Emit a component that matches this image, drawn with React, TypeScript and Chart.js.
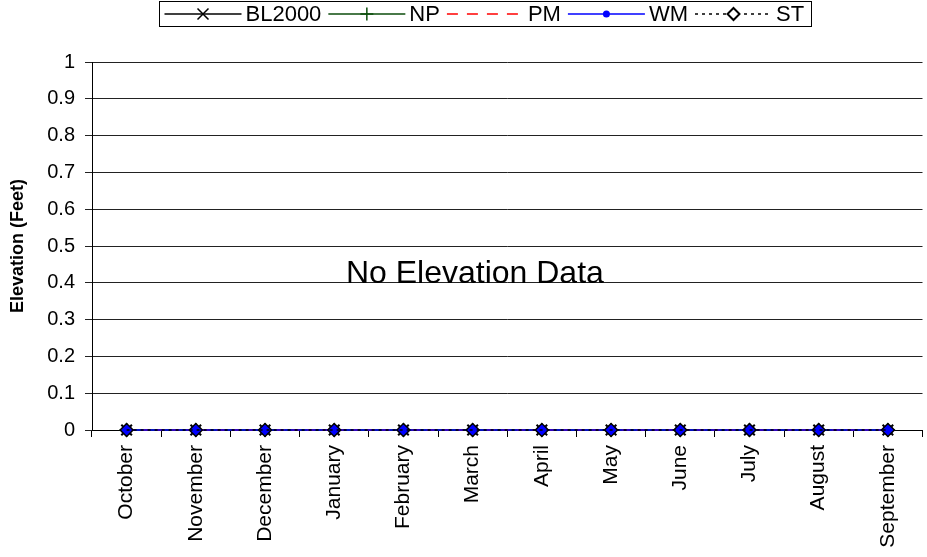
import React, { useEffect, useRef } from "react";
import { Chart, registerables } from "chart.js";

Chart.register(...registerables);

const months = ["October", "November", "December", "January", "February", "March", "April", "May", "June", "July", "August", "September"];
const bl2000 = [0, 0, 0, 0, 0, 0, 0, 0, 0, 0, 0, 0];
const np = [0, 0, 0, 0, 0, 0, 0, 0, 0, 0, 0, 0];
const pm = [0, 0, 0, 0, 0, 0, 0, 0, 0, 0, 0, 0];
const wm = [0, 0, 0, 0, 0, 0, 0, 0, 0, 0, 0, 0];
const st = [0, 0, 0, 0, 0, 0, 0, 0, 0, 0, 0, 0];
const yMin = 0;
const yMax = 1;
const yStep = 0.1;
const noDataText = "No Elevation Data";
const yTitle = "Elevation (Feet)";

const FONT = "Arial, 'Liberation Sans', sans-serif";
const GREEN = "#0b4d0b";

type LegendItem = { label: string; color: string; dash: number[]; marker: string };
const legendItems: LegendItem[] = [
  { label: "BL2000", color: "#000000", dash: [], marker: "x" },
  { label: "NP", color: GREEN, dash: [], marker: "plus" },
  { label: "PM", color: "#ff0000", dash: [11, 9], marker: "none" },
  { label: "WM", color: "#0000ff", dash: [], marker: "dot" },
  { label: "ST", color: "#000000", dash: [3, 4], marker: "diamond" },
];

function drawMarker(ctx: CanvasRenderingContext2D, kind: string, x: number, y: number, color: string) {
  ctx.save();
  ctx.setLineDash([]);
  ctx.strokeStyle = color;
  ctx.fillStyle = color;
  ctx.lineWidth = 1.5;
  if (kind === "x") {
    const r = 5.5;
    ctx.beginPath();
    ctx.moveTo(x - r, y - r); ctx.lineTo(x + r, y + r);
    ctx.moveTo(x + r, y - r); ctx.lineTo(x - r, y + r);
    ctx.stroke();
  } else if (kind === "plus") {
    const r = 6.5;
    ctx.beginPath();
    ctx.moveTo(x - r, y); ctx.lineTo(x + r, y);
    ctx.moveTo(x, y - r); ctx.lineTo(x, y + r);
    ctx.stroke();
  } else if (kind === "dot") {
    ctx.beginPath();
    ctx.arc(x, y, 3.5, 0, Math.PI * 2);
    ctx.fill();
  } else if (kind === "diamond") {
    const r = 6;
    ctx.fillStyle = "#ffffff";
    ctx.lineWidth = 2;
    ctx.beginPath();
    ctx.moveTo(x, y - r); ctx.lineTo(x + r, y); ctx.lineTo(x, y + r); ctx.lineTo(x - r, y); ctx.closePath();
    ctx.fill();
    ctx.stroke();
  }
  ctx.restore();
}

const boxLegend = {
  id: "boxLegend",
  afterDraw(chart: any) {
    const ctx: CanvasRenderingContext2D = chart.ctx;
    ctx.save();
    ctx.font = `22px ${FONT}`;
    const lineLen = 77, gapText = 4, gapItem = 7, padL = 5, padR = 7;
    let total = padL + padR;
    const widths = legendItems.map((it) => ctx.measureText(it.label).width);
    widths.forEach((w, i) => { total += lineLen + gapText + w + (i < widths.length - 1 ? gapItem : 0); });
    const leftEdge = 159;
    const top = 1, h = 25;
    const left = leftEdge + 0.5;
    ctx.strokeStyle = "#000000";
    ctx.lineWidth = 1;
    ctx.strokeRect(left, top + 0.5, Math.round(total), h);
    const cy = top + h / 2 + 0.5;
    let x = left + padL;
    legendItems.forEach((it, i) => {
      ctx.save();
      ctx.strokeStyle = it.color;
      ctx.lineWidth = 1.5;
      ctx.setLineDash(it.dash);
      ctx.beginPath();
      ctx.moveTo(x, cy); ctx.lineTo(x + lineLen, cy);
      ctx.stroke();
      ctx.restore();
      drawMarker(ctx, it.marker, x + lineLen / 2, cy, it.color);
      x += lineLen + gapText;
      ctx.fillStyle = "#000000";
      ctx.textBaseline = "middle";
      ctx.textAlign = "left";
      ctx.fillText(it.label, x, cy + 1);
      x += widths[i] + gapItem;
    });
    ctx.restore();
  },
};

const noData = {
  id: "noData",
  afterDatasetsDraw(chart: any) {
    const ctx: CanvasRenderingContext2D = chart.ctx;
    const a = chart.chartArea;
    ctx.save();
    ctx.font = `32px ${FONT}`;
    ctx.fillStyle = "#000000";
    ctx.textAlign = "center";
    ctx.textBaseline = "alphabetic";
    ctx.fillText(noDataText, a.left + (a.right - a.left) * 0.461, a.top + (a.bottom - a.top) * 0.6);
    ctx.restore();
  },
};

export default function App() {
  const ref = useRef<HTMLCanvasElement | null>(null);

  useEffect(() => {
    document.body.style.margin = "0";
    document.body.style.overflow = "hidden";
    const canvas = ref.current;
    if (!canvas) return;
    const common = { pointBorderWidth: 1.5, borderWidth: 1.5, pointHoverRadius: 0, clip: false as any };
    const chart = new Chart(canvas, {
      type: "line",
      data: {
        labels: months,
        datasets: [
          { label: "ST", data: st, borderColor: "#000000", borderDash: [3, 4], pointStyle: "rectRot", pointRadius: 6.5, pointBackgroundColor: "rgba(255,255,255,0)", pointBorderColor: "#000000", ...common },
          { label: "WM", data: wm, borderColor: "#0000ff", pointStyle: "circle", pointRadius: 4.5, pointBackgroundColor: "#0000ff", pointBorderColor: "#0000ff", ...common },
          { label: "PM", data: pm, borderColor: "#ff0000", borderDash: [8, 7], pointRadius: 0, ...common },
          { label: "NP", data: np, borderColor: GREEN, pointStyle: "cross", pointRadius: 7, pointBorderColor: GREEN, ...common },
          { label: "BL2000", data: bl2000, borderColor: "#000000", pointStyle: "crossRot", pointRadius: 7.5, pointBorderColor: "#000000", pointBorderWidth: 2, borderWidth: 1.5, pointHoverRadius: 0, clip: false as any },
        ],
      },
      options: {
        responsive: false,
        animation: false,
        events: [],
        layout: { padding: { top: 62, right: 0, left: 0, bottom: 0 } },
        plugins: { legend: { display: false }, tooltip: { enabled: false } },
        scales: {
          x: {
            offset: true,
            grid: { offset: true, drawOnChartArea: false, drawTicks: true, tickLength: 7, color: "#000000" },
            border: { color: "#000000", width: 1 },
            ticks: { minRotation: 90, maxRotation: 90, autoSkip: false, color: "#000000", font: { family: FONT, size: 21 }, padding: 8 },
            afterFit: (s: any) => { s.height = 127; },
          },
          y: {
            min: yMin,
            max: yMax,
            grid: { color: "#222222", tickLength: 7, lineWidth: 1 },
            border: { color: "#000000", width: 1 },
            ticks: {
              stepSize: yStep,
              color: "#000000",
              padding: 10,
              font: { family: FONT, size: 20 },
              callback: (v: any) => String(Math.round(Number(v) * 10) / 10),
            },
            title: { display: true, text: yTitle, color: "#000000", font: { family: FONT, size: 18, weight: "bold" }, padding: 7 },
            afterFit: (s: any) => { s.width = 92; },
          },
        },
      },
      plugins: [noData, boxLegend],
    });
    return () => chart.destroy();
  }, []);

  return (
    <div style={{ width: 927, height: 557, overflow: "hidden" }}>
      <canvas ref={ref} width={932} height={557} style={{ display: "block" }} />
    </div>
  );
}
